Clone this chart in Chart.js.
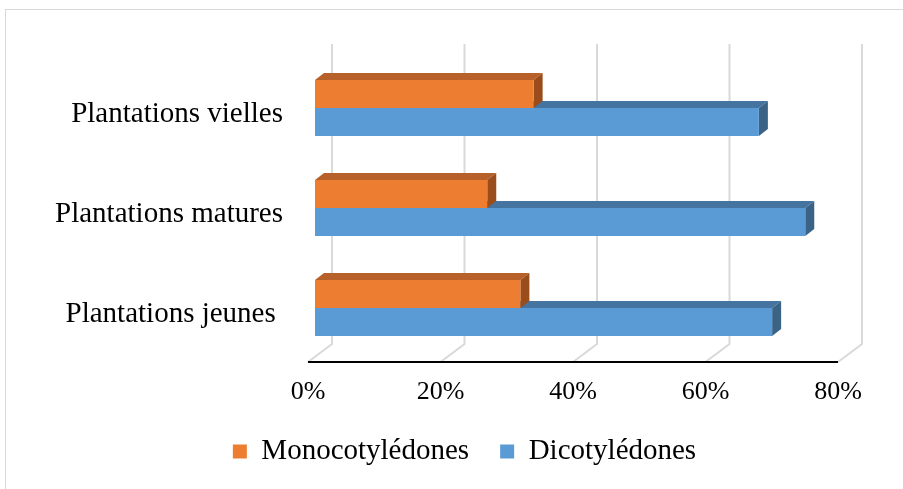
<!DOCTYPE html>
<html><head><meta charset="utf-8">
<script src="https://cdn.jsdelivr.net/npm/chart.js@4/dist/chart.umd.min.js"></script>
<style>html,body{margin:0;padding:0;background:#fff;overflow:hidden}</style>
</head><body>
<canvas id="c" width="903" height="489"></canvas>
<script>
const categories = ['Plantations vielles', 'Plantations matures', 'Plantations jeunes '];
const seriesNames = ['Monocotylédones', 'Dicotylédones'];
const monocotyledones = [33, 26, 31];
const dicotyledones = [67, 74, 69];
const xTickValues = [0, 20, 40, 60, 80];

const FONT = "'Liberation Serif', 'Times New Roman', serif";
const FRONT = {dx: -7, dy: 4};
const BACK = {dx: 17, dy: -14};
const DEPTH = {dx: 9, dy: -7};
const LEGEND_SHIFT = 42;
const faceColors = [
  {top: '#B8602A', side: '#9A4C1B'},
  {top: '#4574A0', side: '#3A6386'}
];

const threeD = {
  id: 'threeD',
  afterLayout(chart) {
    if (chart.legend) {
      chart.legend.left += LEGEND_SHIFT;
      chart.legend.right += LEGEND_SHIFT;
    }
  },
  beforeDraw(chart) {
    const ctx = chart.ctx;
    ctx.save();
    ctx.fillStyle = '#fff';
    ctx.fillRect(0, 0, chart.width, chart.height);
    ctx.strokeStyle = '#d9d9d9';
    ctx.lineWidth = 1;
    ctx.strokeRect(5.5, 9.5, 1200, 1200);
    ctx.restore();
  },
  beforeDatasetsDraw(chart) {
    const {ctx, chartArea: a, scales: {x}} = chart;
    ctx.save();
    ctx.strokeStyle = '#d9d9d9';
    ctx.lineWidth = 2;
    xTickValues.forEach(v => {
      const px = x.getPixelForValue(v);
      ctx.beginPath();
      ctx.moveTo(px + FRONT.dx, a.bottom + FRONT.dy);
      ctx.lineTo(px + BACK.dx, a.bottom + BACK.dy);
      ctx.lineTo(px + BACK.dx, a.top + BACK.dy);
      ctx.stroke();
    });
    ctx.strokeStyle = '#000';
    ctx.lineWidth = 2;
    ctx.beginPath();
    ctx.moveTo(x.getPixelForValue(xTickValues[0]) + FRONT.dx, a.bottom + FRONT.dy);
    ctx.lineTo(x.getPixelForValue(xTickValues[xTickValues.length - 1]) + FRONT.dx, a.bottom + FRONT.dy);
    ctx.stroke();
    for (let i = chart.data.datasets.length - 1; i >= 0; i--) {
      const meta = chart.getDatasetMeta(i);
      const c = faceColors[i];
      meta.data.forEach(bar => {
        const p = bar.getProps(['x', 'y', 'base', 'height'], true);
        const top = p.y - p.height / 2, bottom = p.y + p.height / 2;
        ctx.fillStyle = c.top;
        ctx.beginPath();
        ctx.moveTo(p.base, top);
        ctx.lineTo(p.x, top);
        ctx.lineTo(p.x + DEPTH.dx, top + DEPTH.dy);
        ctx.lineTo(p.base + DEPTH.dx, top + DEPTH.dy);
        ctx.closePath();
        ctx.fill();
        ctx.fillStyle = c.side;
        ctx.beginPath();
        ctx.moveTo(p.x, top);
        ctx.lineTo(p.x + DEPTH.dx, top + DEPTH.dy);
        ctx.lineTo(p.x + DEPTH.dx, bottom + DEPTH.dy);
        ctx.lineTo(p.x, bottom);
        ctx.closePath();
        ctx.fill();
      });
    }
    ctx.restore();
  }
};

new Chart(document.getElementById('c'), {
  type: 'bar',
  data: {
    labels: categories,
    datasets: [
      {label: seriesNames[0], data: monocotyledones, backgroundColor: '#ED7D31'},
      {label: seriesNames[1], data: dicotyledones, backgroundColor: '#5B9BD5'}
    ]
  },
  options: {
    indexAxis: 'y',
    responsive: false,
    animation: false,
    categoryPercentage: 0.56,
    barPercentage: 1,
    layout: {padding: {left: 0, right: 58, top: 58, bottom: 13}},
    scales: {
      x: {
        min: 0, max: 80,
        afterBuildTicks(s) { s.ticks = xTickValues.map(v => ({value: v})); },
        afterFit(s) { s.height = 48; },
        grid: {display: false, drawTicks: false},
        border: {display: false},
        ticks: {
          padding: 19, labelOffset: -7, color: '#000', maxRotation: 0,
          font: {family: FONT, size: 26},
          callback: v => v + '%'
        }
      },
      y: {
        afterFit(s) { s.width = 315; },
        grid: {display: false, drawTicks: false},
        border: {display: false},
        ticks: {padding: 32, labelOffset: 6, color: '#000', font: {family: FONT, size: 29}}
      }
    },
    plugins: {
      legend: {
        position: 'bottom',
        labels: {boxWidth: 14, boxHeight: 14, padding: 31, color: '#000', font: {family: FONT, size: 29}}
      },
      tooltip: {enabled: false}
    }
  },
  plugins: [threeD]
});
</script>
</body></html>
